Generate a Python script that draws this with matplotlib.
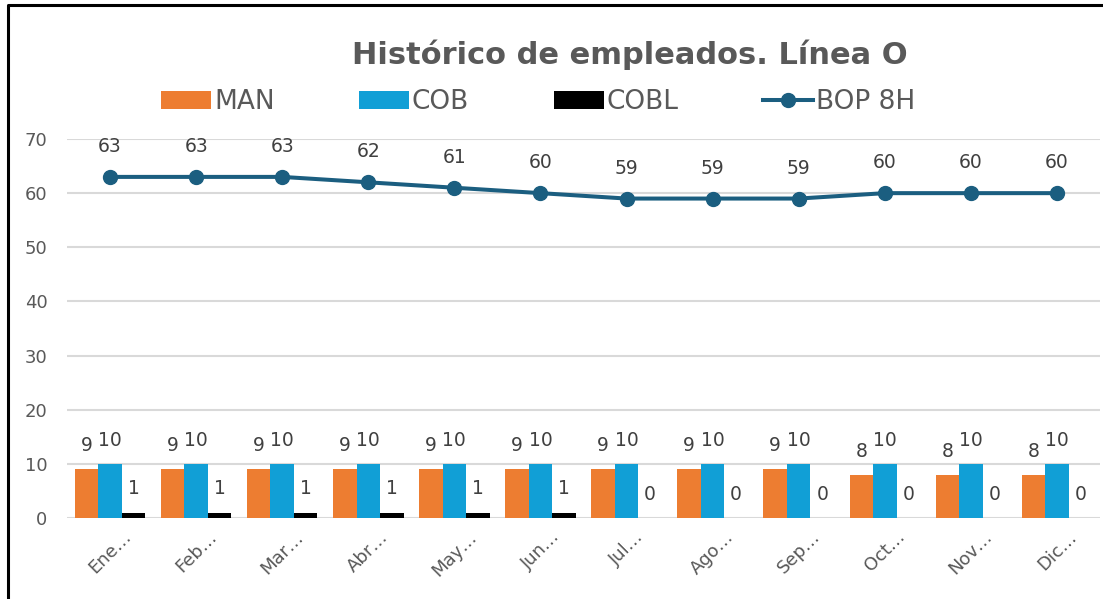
import numpy as np
import matplotlib
matplotlib.use('Agg')
import matplotlib.pyplot as plt
from matplotlib.lines import Line2D

meses = ['Ene…', 'Feb…', 'Mar…', 'Abr…', 'May…', 'Jun…', 'Jul…', 'Ago…', 'Sep…', 'Oct…', 'Nov…', 'Dic…']
man = [9, 9, 9, 9, 9, 9, 9, 9, 9, 8, 8, 8]
cob = [10, 10, 10, 10, 10, 10, 10, 10, 10, 10, 10, 10]
cobl = [1, 1, 1, 1, 1, 1, 0, 0, 0, 0, 0, 0]
bop = [63, 63, 63, 62, 61, 60, 59, 59, 59, 60, 60, 60]

c_man = '#ED7D31'
c_cob = '#119FD6'
c_cobl = '#000000'
c_bop = '#1B5E80'
gris = '#595959'
gris_lbl = '#404040'

fig = plt.figure(figsize=(11.03, 5.99), dpi=100)
ax = fig.add_axes([67 / 1103, 1 - 518 / 599, 1033 / 1103, 379 / 599])

x = np.arange(len(meses))
w = 0.273

ax.bar(x - w, man, width=w, color=c_man, label='MAN', zorder=3)
ax.bar(x, cob, width=w, color=c_cob, label='COB', zorder=3)
ax.bar(x + w, cobl, width=w, color=c_cobl, label='COBL', zorder=3)
ax.plot(x, bop, color=c_bop, lw=2.9, marker='o', markersize=10, label='BOP 8H', zorder=4)

for serie, off in [(man, -w), (cob, 0), (cobl, w)]:
    for xi, v in zip(x, serie):
        ax.annotate(str(v), (xi + off, v), xytext=(0, 17), textcoords='offset points',
                    ha='center', va='center', fontsize=13.5, color=gris_lbl)
for xi, v in zip(x, bop):
    ax.annotate(str(v), (xi, v), xytext=(0, 22), textcoords='offset points',
                ha='center', va='center', fontsize=13.5, color=gris_lbl)

ax.set_xlim(-0.5, len(meses) - 0.5)
ax.set_ylim(0, 70)
ax.set_yticks(range(0, 71, 10))
ax.set_xticks(x)
ax.set_xticklabels(meses, rotation=45, ha='center')
ax.tick_params(axis='y', length=0, pad=14, labelsize=13, labelcolor=gris)
ax.tick_params(axis='x', length=0, pad=7, labelsize=13, labelcolor=gris)
ax.grid(axis='y', color='#D9D9D9', lw=1.5, zorder=0)
for s in ax.spines.values():
    s.set_visible(False)
ax.set_facecolor('none')

fig.text(630 / 1103, 1 - 55 / 599, 'Histórico de empleados. Línea O', ha='center', va='center',
         fontsize=22, fontweight='bold', color=gris)

handles, labels = ax.get_legend_handles_labels()
order = [1, 2, 3, 0]
fig.legend([handles[i] for i in order], [labels[i] for i in order], ncol=4,
           loc='center', bbox_to_anchor=(538 / 1103, 1 - 102 / 599), frameon=False,
           fontsize=19, labelcolor=gris, handlelength=1.9, handleheight=0.65,
           handletextpad=0.1, columnspacing=3.2, numpoints=1)

# marco del grafico (solo se ven borde superior e izquierdo)
fig.add_artist(Line2D([8 / 1103, 8 / 1103, 1.0], [0, 1 - 5 / 599, 1 - 5 / 599],
                      transform=fig.transFigure, color='black', lw=2.2))

fig.savefig('out.png', dpi=100)
